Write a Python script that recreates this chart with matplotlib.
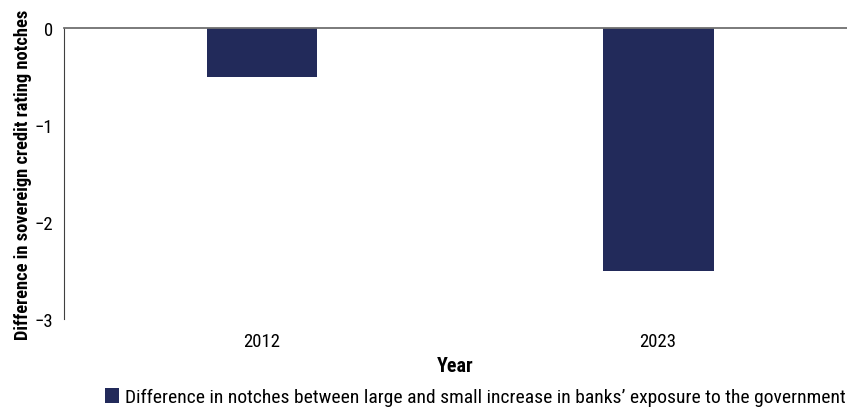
import numpy as np
import matplotlib
matplotlib.use('Agg')
import matplotlib.pyplot as plt
from matplotlib.patches import Patch

plt.rcParams['font.family'] = ['Roboto Condensed', 'DejaVu Sans']

years = ['2012', '2023']
notch_diff = [-0.5, -2.5]
y_ticks = [0, -1, -2, -3]
series_label = "Difference in notches between large and small increase in banks\u2019 exposure to the government"
bar_color = '#222a5a'

fig = plt.figure(figsize=(8.47, 4.10), dpi=100)
ax = fig.add_axes([0.0756, 0.2195, 0.9244, 0.7095])

x = np.arange(len(years))
ax.bar(x, notch_diff, width=0.28, color=bar_color, zorder=2)

ax.set_xlim(-0.5, 1.477)
ax.set_ylim(-3, 0)
ax.set_yticks(y_ticks)
ax.set_yticklabels(['0', '\u22121', '\u22122', '\u22123'], fontsize=13.5)
ax.set_xticks(x)
ax.set_xticklabels(years, fontsize=13.5)
ax.tick_params(axis='y', length=0, pad=8)
ax.tick_params(axis='x', length=0, pad=9)

ax.spines['right'].set_visible(False)
ax.spines['bottom'].set_visible(False)
ax.spines['top'].set_color('#707070')
ax.spines['top'].set_linewidth(1.3)
ax.spines['left'].set_color('#404040')
ax.spines['left'].set_linewidth(0.8)

ax.set_xlabel('Year', fontsize=14.5, fontweight='bold', labelpad=5)
ax.set_ylabel('Difference in sovereign credit rating notches', fontsize=13.3,
              fontweight='bold', labelpad=2)

handle = Patch(facecolor=bar_color, edgecolor='none')
fig.legend([handle], [series_label], loc='lower center',
           bbox_to_anchor=(0.561, -0.036), frameon=False, fontsize=14,
           handlelength=0.75, handleheight=0.75, handletextpad=0.3)

fig.savefig('out.png', dpi=100)
